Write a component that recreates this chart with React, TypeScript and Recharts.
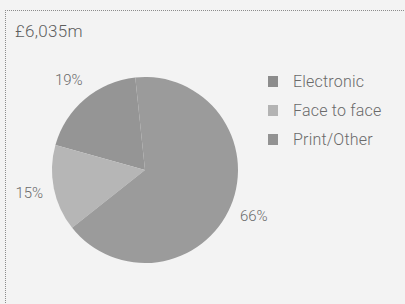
import { PieChart, Pie, Cell, Legend } from 'recharts';

const categories = ['Electronic', 'Face to face', 'Print/Other'];
const shares = [19, 15, 66];
const colors = ['#959595', '#b6b6b6', '#9b9b9b'];
const swatchColors = ['#8c8c8c', '#b3b3b3', '#929292'];
const title = '£6,035m';

const data = categories.map((name, i) => ({ name, value: shares[i] }));

const FONT = 'Roboto, "DejaVu Sans", sans-serif';
const TEXT_COLOR = '#6a6a6a';
const RADIAN = Math.PI / 180;

// eslint-disable-next-line @typescript-eslint/no-explicit-any
const renderLabel = (props: any) => {
  const { cx, cy, midAngle, outerRadius, value } = props;
  const r = outerRadius + 25;
  const x = cx + r * Math.cos(-midAngle * RADIAN);
  const y = cy + r * Math.sin(-midAngle * RADIAN);
  return (
    <text
      x={x}
      y={y}
      textAnchor="middle"
      dominantBaseline="central"
      fill={TEXT_COLOR}
      fontSize={15}
      fontWeight={300}
      fontFamily={FONT}
    >
      {value}%
    </text>
  );
};

// eslint-disable-next-line @typescript-eslint/no-explicit-any
const renderLegend = (props: any) => {
  const { payload } = props;
  return (
    <div style={{ fontFamily: FONT }}>
      {payload.map((entry: any, i: number) => (
        <div
          key={i}
          style={{ display: 'flex', alignItems: 'center', height: 29 }}
        >
          <span
            style={{
              width: 10,
              height: 11,
              background: swatchColors[categories.indexOf(entry.value)],
              marginRight: 15,
              display: 'inline-block',
            }}
          />
          <span style={{ fontSize: 16, fontWeight: 300, color: TEXT_COLOR, letterSpacing: 0.2 }}>
            {entry.value}
          </span>
        </div>
      ))}
    </div>
  );
};

export default function App() {
  return (
    <div
      style={{
        position: 'absolute',
        left: 0,
        top: 0,
        width: 405,
        height: 304,
        background: '#f3f3f3',
        overflow: 'hidden',
      }}
    >
      <div
        style={{
          position: 'absolute',
          left: 5,
          top: 10,
          width: 420,
          height: 320,
          borderLeft: '1px dotted #8c8c8c',
          borderTop: '1px dotted #8c8c8c',
        }}
      />
      <div
        style={{
          position: 'absolute',
          left: 15,
          top: 21,
          fontFamily: FONT,
          fontSize: 17,
          fontWeight: 300,
          color: '#5e5e5e',
          letterSpacing: 0.3,
        }}
      >
        {title}
      </div>
      <PieChart width={405} height={304} style={{ position: 'absolute', left: 0, top: 0 }}>
        <Pie
          data={data}
          dataKey="value"
          nameKey="name"
          cx={140}
          cy={165}
          outerRadius={93}
          startAngle={96}
          endAngle={456}
          stroke="none"
          label={renderLabel}
          labelLine={false}
          isAnimationActive={false}
        >
          {data.map((_, i) => (
            <Cell key={i} fill={colors[i]} />
          ))}
        </Pie>
        <Legend
          layout="vertical"
          align="right"
          verticalAlign="top"
          content={renderLegend}
          wrapperStyle={{ position: 'absolute', left: 268, top: 67, width: 135 }}
        />
      </PieChart>
    </div>
  );
}
